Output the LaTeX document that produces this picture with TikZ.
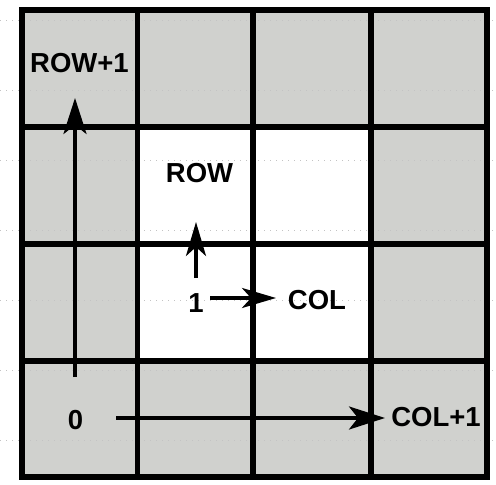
\documentclass[tikz,border=0pt]{standalone}
\usepackage{fontspec}
\setmainfont{Liberation Sans}
\usetikzlibrary{arrows.meta}
\definecolor{cellgray}{RGB}{208,209,206}
\definecolor{dotgray}{RGB}{195,195,195}
\begin{document}
\begin{tikzpicture}[x=1pt,y=-1pt,
  gridline/.style={line width=5.5pt,line cap=rect},
  dotline/.style={dotgray,line width=0.8pt,dash pattern=on 1.2pt off 4.8pt},
  bigarrow/.style={line width=3.3pt,-{Stealth[length=36pt,width=23pt,inset=9pt]}},
  smallarrow/.style={line width=3.3pt,-{Stealth[length=34pt,width=20pt,inset=9pt]}},
  lbl/.style={font=\fontsize{27.5}{30}\selectfont\bfseries,inner sep=0pt,anchor=center}]
\useasboundingbox (0,0) rectangle (496,485);
% cell fills
\fill[cellgray] (21.5,10) rectangle (487,477);
\fill[white] (137.5,127) rectangle (371,361);
% faint dotted guide lines
\foreach \yy in {20,90,160,230,300,370,440}
  \draw[dotline] (0,\yy) -- (496,\yy);
% grid
\foreach \xx in {137.5,253,371}
  \draw[gridline] (\xx,10) -- (\xx,477);
\foreach \yy in {127,244,361}
  \draw[gridline] (21.5,\yy) -- (487,\yy);
\draw[line width=6pt] (21.5,10) rectangle (487,477);
% labels
\node[lbl] (rowp) at (79.5,63) {ROW+1};
\node[lbl] (row) at (199.5,173) {ROW};
\node[lbl] (one) at (196,303) {1};
\node[lbl] (col) at (317,300) {COL};
\node[lbl] (zero) at (75.5,420) {0};
\node[lbl] (colp) at (436,417) {COL+1};
% arrow ends
\coordinate (bvs) at (75,377);
\coordinate (bvt) at (75,98);
\coordinate (bhs) at (116,418);
\coordinate (bht) at (385,418);
\coordinate (svs) at (196,278);
\coordinate (svt) at (196,222);
\coordinate (shs) at (210,298);
\coordinate (sht) at (276,298);
% arrows
\draw[bigarrow] (bvs) -- (bvt);
\draw[bigarrow] (bhs) -- (bht);
\draw[smallarrow] (svs) -- (svt);
\draw[smallarrow] (shs) -- (sht);
\end{tikzpicture}
\end{document}
